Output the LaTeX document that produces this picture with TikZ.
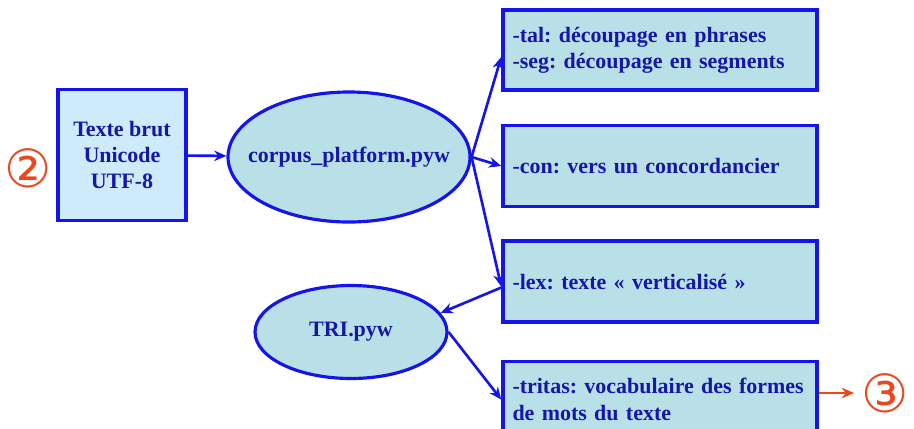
\documentclass[tikz,border=0pt]{standalone}
\usepackage{fontspec}
\setmainfont{Liberation Serif}
\newfontfamily\symfont{DejaVu Sans}
\usetikzlibrary{shapes.geometric, arrows.meta, positioning}
\definecolor{lineblue}{RGB}{20,20,235}
\definecolor{textblue}{RGB}{22,22,170}
\definecolor{fillbrut}{RGB}{205,235,250}
\definecolor{fillbox}{RGB}{185,224,230}
\definecolor{numred}{RGB}{236,72,30}
\newcommand{\boxfont}{\fontsize{12.5}{15}\selectfont\bfseries\frenchspacing}
\newlength{\optwidth}
\setlength{\optwidth}{6.28cm}
\tikzstyle{inbox} = [rectangle, draw=lineblue, line width=2pt, fill=fillbrut, text=textblue, font=\boxfont, align=center, minimum width=2.56cm, minimum height=2.62cm]
\tikzstyle{prog} = [ellipse, draw=lineblue, line width=1.8pt, fill=fillbox, text=textblue, font=\boxfont, inner sep=0pt]
\tikzstyle{option} = [rectangle, draw=lineblue, line width=2pt, fill=fillbox, text=textblue, font=\boxfont, align=left, text width=\optwidth-0.38cm, inner xsep=0.19cm, minimum height=1.62cm]
\tikzstyle{num} = [text=numred, font=\symfont\fontsize{30}{30}\selectfont, inner sep=0pt]
\tikzstyle{arrow} = [lineblue, line width=1.5pt, -{Stealth[length=7pt, width=6pt]}]
\tikzstyle{outarrow} = [numred, line width=1.5pt, -{Stealth[length=7pt, width=6pt]}]

\begin{document}
\begin{tikzpicture}
    \useasboundingbox (0,0) rectangle (18.28,8.56);

    % Input
    \node (num2) [num] at (0.56,5.2) {②};
    \node (brut) [inbox] at (2.44,5.46) {Texte brut\\Unicode\\UTF-8};

    % Programs
    \node (corpus) [prog, inner xsep=-0.6cm, minimum width=4.84cm, minimum height=2.6cm] at (6.98,5.42) {corpus\_platform.pyw};
    \node (tri) [prog, minimum width=3.84cm, minimum height=1.86cm] at (7.02,1.92) {TRI.pyw};

    % Options
    \node (tal) [option, minimum height=1.6cm] at (13.2,7.56) {-tal: découpage en phrases\\-seg: découpage en segments};
    \node (con) [option, below=0.64cm of tal] {-con: vers un concordancier};
    \node (lex) [option, below=0.62cm of con] {-lex: texte « verticalisé »};
    \node (tritas) [option, minimum height=1.52cm, below=0.72cm of lex] {-tritas: vocabulaire des formes\\de mots du texte};

    % Output
    \node (num3) [num] at (17.7,0.7) {③};

    % ==== Arrows
    \draw [arrow] (brut) -- (corpus);
    \draw [arrow] (corpus.east) -- ([yshift=-0.14cm]tal.west);
    \draw [arrow] (corpus.east) -- (con.west);
    \draw [arrow] (corpus.east) -- ([yshift=-0.1cm]lex.west);
    \draw [arrow] ([yshift=-0.12cm]lex.west) -- (tri.12);
    \draw [arrow] (tri.east) -- (tritas.west);
    \draw [outarrow, shorten >=0.14cm] (tritas.east |- num3) -- (num3.west);

\end{tikzpicture}
\end{document}
